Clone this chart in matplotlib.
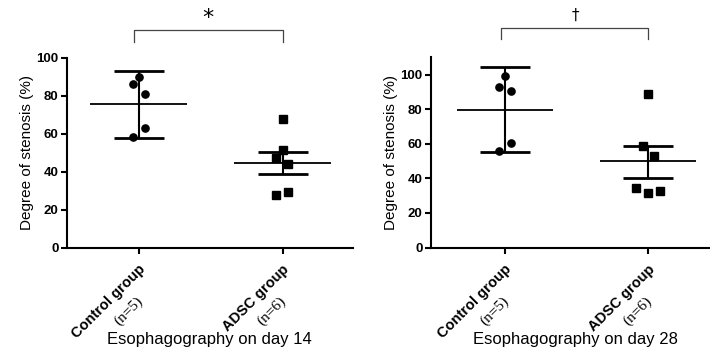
import matplotlib
matplotlib.use("Agg")
import matplotlib.pyplot as plt

plt.rcParams['font.family'] = ['Liberation Sans', 'DejaVu Sans']

# grupos y etiquetas
grupos = ["Control group", "ADSC group"]
n_grupos = ["(n=5)", "(n=6)"]
titulos = ["Esophagography on day 14", "Esophagography on day 28"]
marcas_sig = ["*", "\u2020"]

# dia 14 - valores individuales y desplazamiento horizontal de cada punto
control_14 = [90, 86, 81, 63, 58]
control_14_dx = [0, -0.042, 0.045, 0.045, -0.038]
adsc_14 = [67.7, 51.4, 47.4, 44, 27.7, 29.5]
adsc_14_dx = [0, 0, -0.045, 0.035, -0.045, 0.035]

# dia 28
control_28 = [99, 92.7, 90.3, 60.3, 55.8]
control_28_dx = [0, -0.04, 0.042, 0.042, -0.04]
adsc_28 = [88.6, 58.6, 53.2, 34.5, 31.6, 32.5]
adsc_28_dx = [0, -0.04, 0.04, -0.085, 0, 0.08]

# media y limites de las barras de error (control, ADSC)
media_14 = [75.8, 44.4]
sup_14 = [93, 50.2]
inf_14 = [57.6, 38.6]
media_28 = [79.5, 49.9]
sup_28 = [104.3, 58.6]
inf_28 = [55.2, 40.3]

ylim_dias = [100, 110]

fig = plt.figure(figsize=(7.1, 3.62), dpi=100)
ax1 = fig.add_axes([0.094, 0.316, 0.403, 0.525])
ax2 = fig.add_axes([0.607, 0.316, 0.408, 0.526])

paneles = [
    (ax1, control_14, control_14_dx, adsc_14, adsc_14_dx, media_14, sup_14, inf_14, (-0.5, 1.488)),
    (ax2, control_28, control_28_dx, adsc_28, adsc_28_dx, media_28, sup_28, inf_28, (-0.518, 1.504)),
]

for i, (ax, ctrl, ctrl_dx, adsc, adsc_dx, media, sup, inf, xlim) in enumerate(paneles):
    # barras de error
    for j in range(2):
        ax.errorbar([j], [media[j]], yerr=[[media[j] - inf[j]], [sup[j] - media[j]]],
                    fmt='none', ecolor='black', elinewidth=1.5, capsize=18, capthick=2, zorder=2)
        ax.hlines(media[j], j - 0.335, j + 0.335, color='black', lw=1.3, zorder=2)

    # puntos individuales
    ax.plot([0 + d for d in ctrl_dx], ctrl, 'o', color='black', ms=5.2, zorder=3)
    ax.plot([1 + d for d in adsc_dx], adsc, 's', color='black', ms=5.3, zorder=3)

    ax.set_xlim(*xlim)
    ax.set_ylim(0, ylim_dias[i])
    ax.set_yticks([0, 20, 40, 60, 80, 100])
    ax.set_xticks([0, 1])
    ax.set_xticklabels([])
    for lab in ax.get_yticklabels():
        lab.set_fontweight('bold')
    ax.tick_params(axis='both', direction='out', length=4, width=1.5, labelsize=9.5, pad=2)
    ax.spines['top'].set_visible(False)
    ax.spines['right'].set_visible(False)
    ax.spines['left'].set_linewidth(1.5)
    ax.spines['bottom'].set_linewidth(1.5)
    ax.set_ylabel("Degree of stenosis (%)", fontsize=11, labelpad=2)

    # etiquetas de grupo rotadas
    for j in range(2):
        ax.annotate(grupos[j], xy=(j, 0), xycoords=ax.get_xaxis_transform(),
                    xytext=(3, -14), textcoords='offset points', rotation=45,
                    rotation_mode='anchor', ha='right', va='center',
                    fontsize=10.5, fontweight='bold')
        ax.annotate(n_grupos[j], xy=(j, 0), xycoords=ax.get_xaxis_transform(),
                    xytext=(-7.5, -46), textcoords='offset points', rotation=45,
                    rotation_mode='anchor', ha='center', va='center',
                    fontsize=11, family=['Liberation Serif', 'DejaVu Serif'])

    ax.annotate(titulos[i], xy=(0.5, 0), xycoords='axes fraction',
                xytext=(0, -66), textcoords='offset points', ha='center', va='center',
                fontsize=12)

    # corchete de significancia
    top = ylim_dias[i] * 1.146 if i == 0 else 127
    bajo = top - (6.2 if i == 0 else 6.4)
    ax.plot([-0.03, -0.03, 1.0, 1.0], [bajo, top, top, bajo], color='#444444',
            lw=0.9, clip_on=False)
    if i == 0:
        ax.text(0.48, 121, marcas_sig[i], ha='center', va='center', fontsize=16,
                family='DejaVu Sans')
    else:
        ax.text(0.49, 134, marcas_sig[i], ha='center', va='center', fontsize=11,
                family='DejaVu Sans')

fig.savefig("out.png", dpi=100)
